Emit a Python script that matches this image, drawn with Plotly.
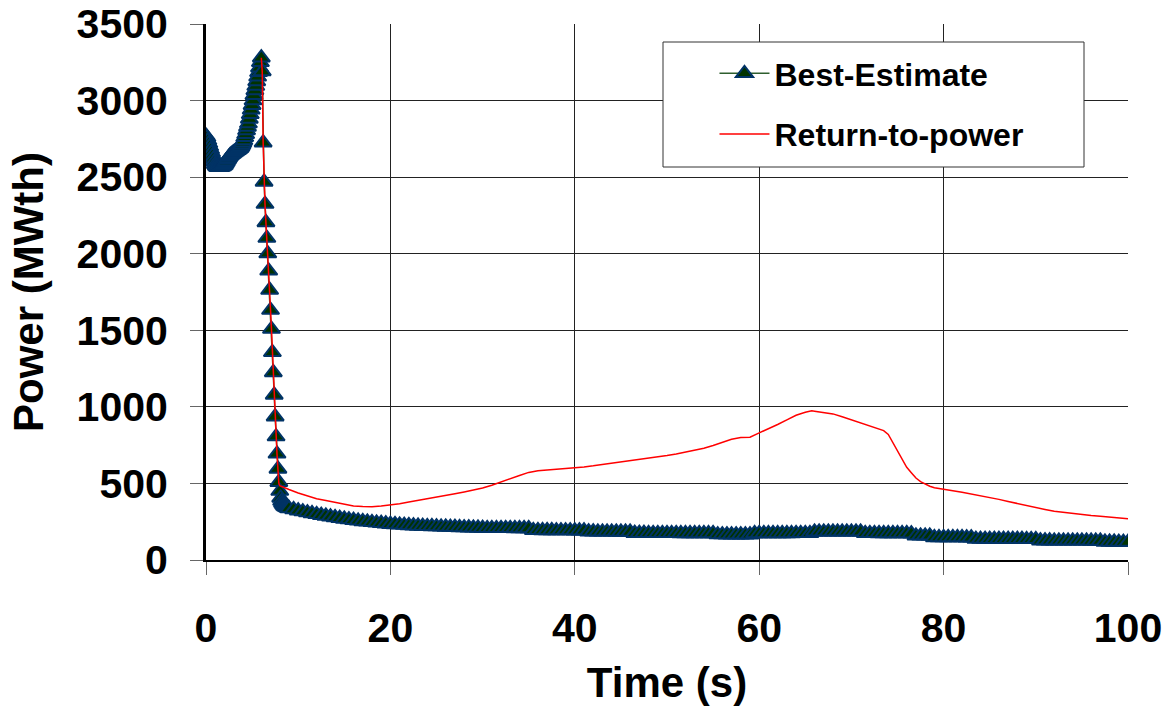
import plotly.graph_objects as go

# ---------------- data ----------------
# Best-Estimate: 0.1 s samples from 0 to 9 s, then 0.5 s samples to 100 s
be_time_early = [round(0.1 * i, 1) for i in range(91)]
be_power_early = [
    2770, 2760, 2740, 2720, 2700, 2680, 2660, 2640, 2620, 2600,
    2585, 2575, 2568, 2565, 2565, 2565, 2565, 2568, 2570, 2575,
    2580, 2590, 2600, 2612, 2622, 2632, 2640, 2645, 2650, 2655,
    2660, 2664, 2668, 2672, 2676, 2680, 2685, 2690, 2700, 2712,
    2725, 2740, 2760, 2780, 2805, 2828, 2850, 2880, 2910, 2940,
    2970, 3000, 3035, 3066, 3095, 3125, 3155, 3185, 3215, 3250,
    3280, 3190, 2725, 2469, 2324, 2204, 2102, 2001, 1888, 1763,
    1632, 1508, 1356, 1225, 1078, 936, 806, 693, 595, 508,
    450, 405, 385, 372, 362, 355, 350, 346, 343, 340,
    337,
]
be_time_tail = [9.5 + 0.5 * i for i in range(182)]
be_power_tail = [
    330, 322, 316, 310, 304, 298, 293, 288, 283, 278,
    273, 268, 264, 260, 256, 252, 249, 246, 243, 240,
    237, 234, 232, 230, 228, 226, 224, 222, 221, 220,
    219, 218, 217, 216, 215, 214, 213, 212, 211, 210,
    209, 208, 207, 207, 207, 207, 207, 207, 206, 206,
    206, 206,
    194, 194, 193, 193, 193, 192, 192, 192, 192, 191, 191, 191,
    185, 185, 184, 184, 184, 184, 183, 183, 183, 183,
    175, 175, 175, 174, 174, 174, 174, 174, 174, 174,
    173, 173, 173, 173, 173, 173, 173, 173,
    166, 166, 165, 165, 165, 165, 165, 165,
    173, 173, 173, 173, 173, 173, 173, 173, 173, 174, 174, 174, 174,
    184, 184, 184, 184, 184, 184, 184, 184, 184, 184, 184,
    174, 174, 174, 173, 173, 173, 173, 173, 173, 173, 172,
    158, 158, 158, 158,
    147, 147, 147, 147, 147, 147, 147, 146, 146,
    137, 137, 137, 136, 136, 136, 136, 136, 136, 136, 136, 135, 135, 135,
    126, 126, 126, 125, 125, 125, 125, 125, 125, 125, 125, 124, 124, 124,
    118, 118, 118, 117, 117, 117,
]
be_time = be_time_early + be_time_tail
be_power = be_power_early + be_power_tail

# Return-to-power
rtp_time = [
    6.0, 6.1, 6.2, 6.3, 6.4, 6.5, 6.6, 6.7, 6.8, 6.9,
    7.0, 7.1, 7.2, 7.3, 7.4, 7.5, 7.6, 7.7, 7.8, 7.9,
    8.0, 8.5, 9, 10, 11, 12, 13, 14, 15, 16,
    17, 18, 19, 20, 21, 22, 23, 24, 25, 26,
    27, 28, 29, 30, 31, 32, 33, 34, 35, 36,
    37, 38, 39, 40, 41, 42, 43, 44, 45, 46,
    47, 48, 49, 50, 51, 52, 53, 54, 55, 56,
    57, 58, 59, 60, 61, 62, 63, 64, 65, 65.7,
    66, 67, 68, 69, 70, 71, 72, 73, 73.5, 74,
    74.5, 75, 75.5, 76, 76.5, 77, 77.5, 78, 78.5, 79,
    80, 81, 82, 83, 84, 85, 86, 87, 88, 89,
    90, 91, 92, 93, 94, 95, 96, 97, 98, 99,
    100,
]
rtp_power = [
    3280, 3190, 2725, 2469, 2324, 2204, 2102, 2001, 1888, 1763,
    1632, 1508, 1356, 1225, 1078, 936, 806, 693, 595, 500,
    485, 470, 460, 438, 418, 400, 388, 375, 362, 352,
    349, 348, 352, 358, 368, 378, 388, 398, 410, 422,
    432, 444, 456, 470, 488, 510, 535, 552, 572, 583,
    588, 592, 596, 601, 608, 615, 623, 630, 638, 646,
    655, 663, 672, 682, 692, 703, 716, 730, 748, 768,
    788, 800, 802, 830, 855, 885, 915, 945, 965, 975,
    972, 962, 954, 935, 915, 900, 880, 860, 845, 820,
    765, 705, 650, 605, 570, 535, 512, 495, 482, 472,
    460, 452, 443, 432, 420, 408, 396, 382, 368, 354,
    340, 330, 318, 310, 303, 296, 290, 285, 280, 275,
    269,
]

x_ticks = [0, 20, 40, 60, 80, 100]
y_ticks = [0, 500, 1000, 1500, 2000, 2500, 3000, 3500]

FONT = "Liberation Sans, Arial, sans-serif"

fig = go.Figure()
fig.add_trace(go.Scatter(
    x=be_time, y=be_power, name="Best-Estimate", mode="lines+markers",
    line=dict(color="#2e5e2e", width=1.5),
    marker=dict(symbol="triangle-up", size=15, color="#003300",
                line=dict(color="#003366", width=2)),
    legendgroup="a",
))
fig.add_trace(go.Scatter(
    x=rtp_time, y=rtp_power, name="Return-to-power", mode="lines",
    line=dict(color="#ff0000", width=1.5),
    legendgroup="b",
))

axis_common = dict(
    showgrid=True, gridcolor="#222222", gridwidth=1,
    showline=True, linecolor="black",
    ticks="outside", ticklen=13, tickcolor="#666666", tickwidth=1,
    zeroline=False, automargin=False,
    tickfont=dict(family=FONT, size=41, color="black", weight="bold"),
)

fig.update_layout(
    width=1176, height=706,
    margin=dict(l=206, r=48, t=24, b=146),
    paper_bgcolor="white", plot_bgcolor="white",
    font=dict(family=FONT, color="black"),
    xaxis=dict(range=[0, 100], tickvals=x_ticks, linewidth=2,
               ticklabelstandoff=18,
               title=dict(text="Time (s)", standoff=17,
                          font=dict(family=FONT, size=42, weight="bold")),
               **axis_common),
    yaxis=dict(range=[0, 3500], tickvals=y_ticks, linewidth=3,
               ticklabelstandoff=14,
               title=dict(text="Power (MWth)", standoff=20,
                          font=dict(family=FONT, size=42, weight="bold")),
               **axis_common),
    legend=dict(
        x=0.5515, y=0.959, xanchor="left", yanchor="top",
        bgcolor="rgba(0,0,0,0)", borderwidth=0,
        font=dict(family=FONT, size=32, color="black", weight="bold"),
        traceorder="grouped", tracegroupgap=16, itemwidth=50,
    ),
    showlegend=True,
)

# legend frame
fig.add_shape(type="rect", xref="paper", yref="paper",
              x0=(663 - 206) / 922, x1=(1084 - 206) / 922,
              y0=(560 - 167) / 536, y1=(560 - 42) / 536,
              fillcolor="white", line=dict(color="#333333", width=1),
              layer="above")

fig.write_html("out.html")
